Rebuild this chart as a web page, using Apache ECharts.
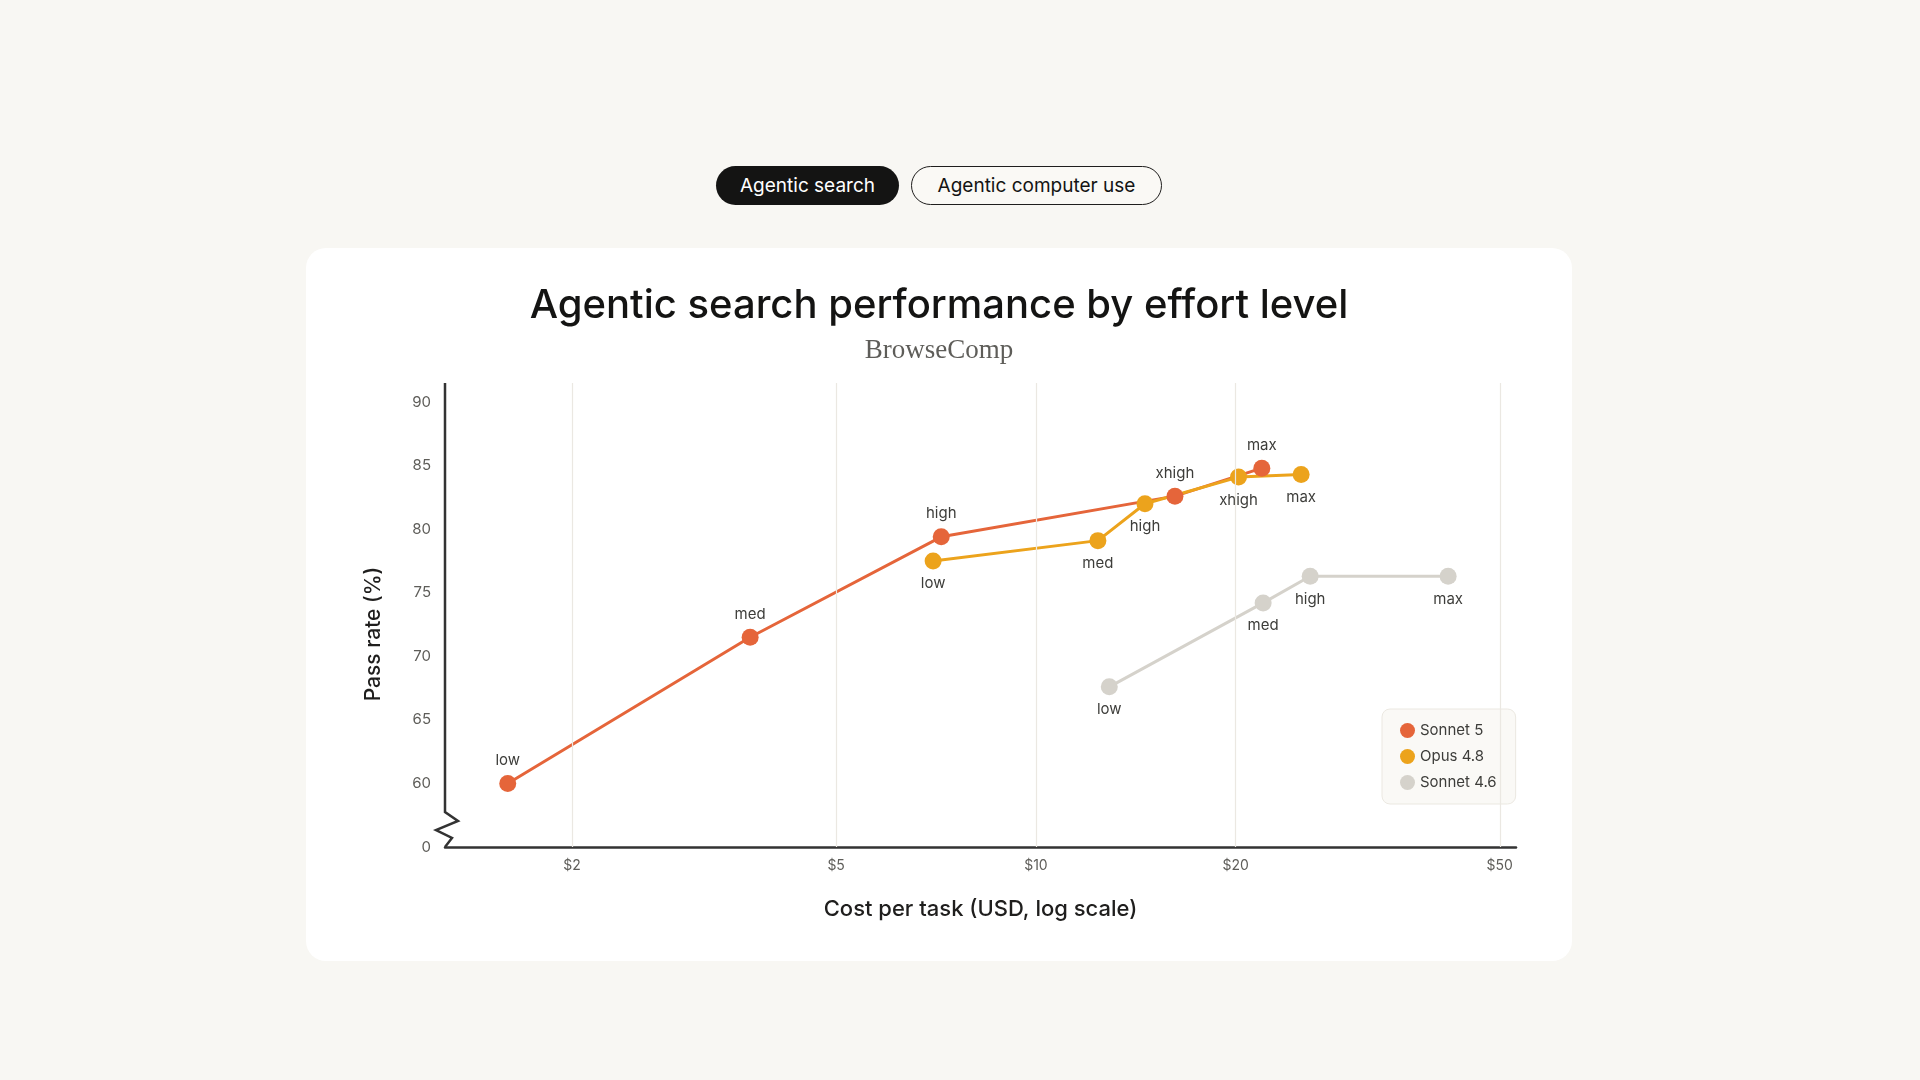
<!DOCTYPE html>
<html lang="en">
<head>
<meta charset="utf-8">
<title>Agentic search performance by effort level</title>
<style>
  html, body { margin: 0; height: 100%; background: #f8f7f3; font-family: Inter, "Noto Sans", sans-serif; }
  .pill { position: absolute; top: 166px; height: 39px; box-sizing: border-box; border-radius: 20px;
          display: flex; align-items: center; justify-content: center; font-size: 19px; color: #141413; }
  .pill.on { left: 716px; width: 183px; background: #141413; color: #fff; }
  .pill.off { left: 911px; width: 251px; border: 1.5px solid #1f1e1d; background: #faf9f5; }
  #card { position: absolute; left: 306px; top: 248px; width: 1266px; height: 713px; background: #fff; border-radius: 20px; }
  #container { width: 100%; height: 100%; }
</style>
</head>
<body>
<div class="pill on">Agentic search</div>
<div class="pill off">Agentic computer use</div>
<div id="card"><div id="container"></div></div>

<script type="text/javascript" src="https://cdn.jsdelivr.net/npm/echarts/dist/echarts.min.js"></script>
<script type="text/javascript">
var dom = document.getElementById('container');
var myChart = echarts.init(dom);

// values (cost in USD, pass rate in %)
var sonnet5Effort = ['low', 'med', 'high', 'xhigh', 'max'];
var sonnet5Cost = [1.6, 3.71, 7.2, 16.2, 21.9];
var sonnet5Pass = [60.0, 71.5, 79.4, 82.6, 84.8];

var opus48Effort = ['low', 'med', 'high', 'xhigh', 'max'];
var opus48Cost = [7.0, 12.4, 14.6, 20.2, 25.1];
var opus48Pass = [77.5, 79.1, 82.0, 84.1, 84.3];

var sonnet46Effort = ['low', 'med', 'high', 'max'];
var sonnet46Cost = [12.9, 22.0, 25.9, 41.8];
var sonnet46Pass = [67.6, 74.2, 76.3, 76.3];

var xTicks = [2, 5, 10, 20, 50];
var yTicks = [55, 60, 65, 70, 75, 80, 85, 90];
var yTickLabels = ['0', '60', '65', '70', '75', '80', '85', '90'];

var xMin = 1.287, xMax = 52.9;
var yMin = 55, yMax = 91.5;

function points(cost, pass, effort) {
    return cost.map(function (c, i) {
        return { value: [c, pass[i]], name: effort[i] };
    });
}

function lineSeries(name, color, data, labelPos) {
    return {
        name: name,
        type: 'line',
        data: data,
        symbol: 'circle',
        symbolSize: 17,
        lineStyle: { color: color, width: 3 },
        itemStyle: { color: color },
        label: {
            show: true,
            position: labelPos,
            distance: 7,
            formatter: '{b}',
            fontFamily: 'Inter',
            fontSize: 15,
            color: '#3d3d3a'
        },
        emphasis: { disabled: true },
        z: 3
    };
}

var option = {
    title: [
        {
            text: 'Agentic search performance by effort level',
            left: 'center',
            top: 33,
            textStyle: { fontFamily: 'Inter', fontSize: 40, fontWeight: 500, color: '#141413' }
        },
        {
            text: 'BrowseComp',
            left: 'center',
            top: 84,
            textStyle: { fontFamily: 'Liberation Serif', fontSize: 27, fontWeight: 'normal', color: '#5e5d59' }
        }
    ],
    legend: {
        data: ['Sonnet 5', 'Opus 4.8', 'Sonnet 4.6'],
        orient: 'vertical',
        left: 1076,
        top: 461,
        padding: [14, 19, 14, 18],
        itemGap: 11,
        itemWidth: 15,
        itemHeight: 15,
        icon: 'circle',
        backgroundColor: '#faf9f6',
        borderColor: '#ebe8e1',
        borderWidth: 1,
        borderRadius: 8,
        selectedMode: false,
        textStyle: { fontFamily: 'Inter', fontSize: 15, color: '#3d3d3a' }
    },
    grid: { left: 139, top: 135, width: 1071, height: 464, containLabel: false, outerBoundsMode: 'none' },
    xAxis: {
        type: 'log',
        logBase: 10,
        min: xMin,
        max: xMax,
        name: 'Cost per task (USD, log scale)',
        nameLocation: 'middle',
        nameGap: 51,
        nameTextStyle: { fontFamily: 'Inter', fontSize: 22, fontWeight: 500, color: '#1f1e1d' },
        axisLine: { show: true, lineStyle: { color: '#333', width: 2.5 } },
        axisTick: { show: false },
        axisLabel: { show: false },
        splitLine: { show: false }
    },
    yAxis: {
        type: 'value',
        min: yMin,
        max: yMax,
        interval: 5,
        name: 'Pass rate (%)',
        nameLocation: 'middle',
        nameGap: 61,
        nameTextStyle: { fontFamily: 'Inter', fontSize: 21, fontWeight: 500, color: '#1f1e1d', padding: [0, 38, 0, 0] },
        axisLine: { show: false },
        axisTick: { show: false },
        splitLine: { show: false },
        axisLabel: {
            margin: 14,
            fontFamily: 'Inter',
            fontSize: 15,
            color: '#5e5d59',
            showMaxLabel: false,
            formatter: function (v) {
                var i = yTicks.indexOf(v);
                return i < 0 ? '' : yTickLabels[i];
            }
        }
    },
    series: [
        {
            name: 'grid',
            type: 'line',
            data: [],
            silent: true,
            z: 1,
            markLine: {
                silent: true,
                symbol: ['none', 'none'],
                lineStyle: { color: '#ebe8e2', width: 1.2, type: 'solid' },
                label: {
                    show: true,
                    position: 'start',
                    distance: 12,
                    fontFamily: 'Inter',
                    fontSize: 14,
                    color: '#5e5d59',
                    formatter: function (p) { return '$' + p.value; }
                },
                emphasis: { disabled: true },
                data: xTicks.map(function (v) { return { xAxis: v }; })
            }
        },
        lineSeries('Sonnet 5', '#e5653a', points(sonnet5Cost, sonnet5Pass, sonnet5Effort), 'top'),
        lineSeries('Opus 4.8', '#eca31c', points(opus48Cost, opus48Pass, opus48Effort), 'bottom'),
        lineSeries('Sonnet 4.6', '#d5d2cb', points(sonnet46Cost, sonnet46Pass, sonnet46Effort), 'bottom')
    ]
};

myChart.setOption(option);

// y axis line with a zigzag break just above the zero baseline
var ax = myChart.convertToPixel({ xAxisIndex: 0 }, xMin);
var yTopPx = myChart.convertToPixel({ yAxisIndex: 0 }, yMax);
var yBotPx = myChart.convertToPixel({ yAxisIndex: 0 }, yMin);
myChart.setOption({
    graphic: [{
        type: 'polyline',
        silent: true,
        z: 10,
        shape: {
            points: [
                [ax, yTopPx], [ax, yBotPx - 35], [ax + 13, yBotPx - 26],
                [ax - 9, yBotPx - 17], [ax + 7, yBotPx - 9], [ax, yBotPx]
            ]
        },
        style: { stroke: '#333', lineWidth: 2.5, fill: null, lineJoin: 'miter' }
    }]
});

window.addEventListener('resize', myChart.resize);
</script>
</body>
</html>
